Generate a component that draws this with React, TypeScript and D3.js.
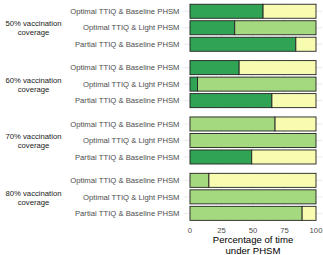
import React from "react";
import * as d3 from "d3";

const groups = ["50% vaccination coverage", "60% vaccination coverage", "70% vaccination coverage", "80% vaccination coverage"];
const scenarios = ["Optimal TTIQ & Baseline PHSM", "Optimal TTIQ & Light PHSM", "Partial TTIQ & Baseline PHSM"];
const levels = ["dark", "light", "baseline"];
const levelColors = ["#31a354", "#a5d97f", "#f7fcb0"];
// percentage of time per PHSM level, rows = group x scenario
const darkValues = [58, 35.5, 84, 39, 6, 65, 0, 0, 49, 0, 0, 0];
const lightValues = [0, 64.5, 0, 0, 94, 0, 67.5, 100, 0, 15, 100, 89];
const baselineValues = [42, 0, 16, 61, 0, 35, 32.5, 0, 51, 85, 0, 11];
const xTicks = [0, 25, 50, 75, 100];
const xMinor = [12.5, 37.5, 62.5, 87.5];

export default function App() {
  const W = 323, H = 255;
  const x = d3.scaleLinear().domain([0, 100]).range([190, 316]);
  const panelX0 = x(-5), panelX1 = x(105);
  const fy = d3.scaleBand<string>().domain(groups).range([3, 221.6]).paddingInner(0.1216).paddingOuter(0);
  const ry = d3.scaleBand<string>().domain(scenarios).range([0, fy.bandwidth()]).paddingInner(0.15).paddingOuter(0.075);
  const series = [darkValues, lightValues, baselineValues];
  const labelFont = "Liberation Sans, Arial, sans-serif";
  const fs = 7.7;

  return (
    <svg width={W} height={H} style={{ position: "absolute", left: 0, top: 0, background: "#fff" }} fontFamily={labelFont}>
      {groups.map((g, gi) => {
        const gy = fy(g)!;
        const parts = g.split(" coverage");
        const cy = gy + fy.bandwidth() / 2;
        return (
          <g key={g}>
            {xMinor.map((t) => (
              <line key={"m" + t} x1={x(t)} x2={x(t)} y1={gy} y2={gy + fy.bandwidth()} stroke="#f2f2f2" strokeWidth={0.5} />
            ))}
            {xTicks.map((t) => (
              <line key={"M" + t} x1={x(t)} x2={x(t)} y1={gy} y2={gy + fy.bandwidth()} stroke="#ebebeb" strokeWidth={0.8} />
            ))}
            {scenarios.map((s) => (
              <line key={"h" + s} x1={panelX0} x2={panelX1} y1={gy + ry(s)! + ry.bandwidth() / 2} y2={gy + ry(s)! + ry.bandwidth() / 2} stroke="#e6e6e6" strokeWidth={0.8} />
            ))}
            {scenarios.map((s, si) => {
              const idx = gi * scenarios.length + si;
              let acc = 0;
              const y0 = gy + ry(s)!;
              return (
                <g key={s}>
                  {levels.map((lv, li) => {
                    const v = series[li][idx];
                    const start = acc;
                    acc += v;
                    if (v <= 0) return null;
                    return (
                      <rect key={lv} x={x(start)} y={y0} width={x(start + v) - x(start)} height={ry.bandwidth()} fill={levelColors[li]} stroke="#222" strokeWidth={0.9} />
                    );
                  })}
                  <text x={179.5} y={y0 + ry.bandwidth() / 2} dy="0.35em" textAnchor="end" fontSize={fs} fill="#4d4d4d">{s}</text>
                </g>
              );
            })}
            <text x={33.5} y={cy - 4} dy="0.35em" textAnchor="middle" fontSize={fs} fill="#1a1a1a">{parts[0]}</text>
            <text x={33.5} y={cy + 5} dy="0.35em" textAnchor="middle" fontSize={fs} fill="#1a1a1a">coverage</text>
          </g>
        );
      })}
      {xTicks.map((t) => (
        <text key={t} x={x(t)} y={232.5} textAnchor="middle" fontSize={fs} fill="#4d4d4d">{t}</text>
      ))}
      <text x={x(50)} y={243.3} textAnchor="middle" fontSize={9.6} fill="#000">Percentage of time</text>
      <text x={x(50)} y={253.6} textAnchor="middle" fontSize={9.6} fill="#000">under PHSM</text>
    </svg>
  );
}
